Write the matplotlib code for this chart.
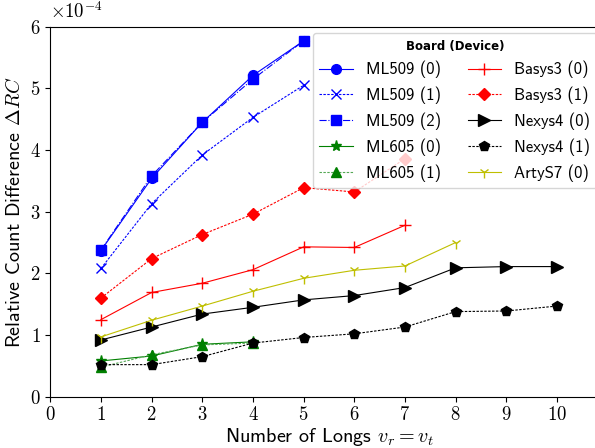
import matplotlib
matplotlib.use("Agg")
import matplotlib.pyplot as plt
from matplotlib.ticker import FuncFormatter, MultipleLocator

plt.rcParams["mathtext.fontset"] = "cm"
plt.rcParams["font.family"] = ["cmss10", "DejaVu Sans"]
plt.rcParams["axes.unicode_minus"] = False

# Relative count difference per board/device vs. number of longs
longs = [1, 2, 3, 4, 5, 6, 7, 8, 9, 10]

ml509_0 = [2.37e-4, 3.54e-4, 4.45e-4, 5.21e-4, 5.77e-4]
ml509_1 = [2.08e-4, 3.13e-4, 3.92e-4, 4.53e-4, 5.05e-4]
ml509_2 = [2.38e-4, 3.58e-4, 4.45e-4, 5.15e-4, 5.77e-4]
ml605_0 = [0.58e-4, 0.66e-4, 0.85e-4, 0.89e-4]
ml605_1 = [0.48e-4, 0.68e-4, 0.84e-4, 0.87e-4]
basys3_0 = [1.25e-4, 1.69e-4, 1.84e-4, 2.06e-4, 2.43e-4, 2.42e-4, 2.78e-4]
basys3_1 = [1.60e-4, 2.24e-4, 2.63e-4, 2.96e-4, 3.39e-4, 3.32e-4, 3.86e-4]
nexys4_0 = [0.92e-4, 1.13e-4, 1.34e-4, 1.45e-4, 1.57e-4, 1.64e-4, 1.77e-4,
            2.09e-4, 2.11e-4, 2.11e-4]
nexys4_1 = [0.52e-4, 0.52e-4, 0.65e-4, 0.87e-4, 0.96e-4, 1.02e-4, 1.13e-4,
            1.38e-4, 1.39e-4, 1.47e-4]
artys7_0 = [0.97e-4, 1.24e-4, 1.47e-4, 1.71e-4, 1.92e-4, 2.05e-4, 2.12e-4,
            2.50e-4]

FINE_DASH = (0, (2.2, 1.3))
series = [
    ("ML509 (0)", ml509_0, "b", "b", "-", "o", 7),
    ("ML509 (1)", ml509_1, "b", "b", FINE_DASH, "x", 7),
    ("ML509 (2)", ml509_2, "b", "b", "-.", "s", 7),
    ("ML605 (0)", ml605_0, "g", "g", "-", "*", 8),
    ("ML605 (1)", ml605_1, "#55a855", "g", FINE_DASH, "^", 7),
    ("Basys3 (0)", basys3_0, "r", "r", "-", "+", 8),
    ("Basys3 (1)", basys3_1, "r", "r", FINE_DASH, "D", 6.5),
    ("Nexys4 (0)", nexys4_0, "k", "k", "-", ">", 8),
    ("Nexys4 (1)", nexys4_1, "k", "k", FINE_DASH, "p", 7),
    ("ArtyS7 (0)", artys7_0, "y", "y", "-", "1", 8),
]

fig = plt.figure(figsize=(5.95, 4.48), dpi=100)
ax = fig.add_axes([50.3 / 595, 51.3 / 448, 11 * 50.67 / 595, 370 / 448])

for label, vals, lcolor, mcolor, ls, marker, ms in series:
    ax.plot(longs[:len(vals)], vals, color=lcolor, linestyle=ls,
            marker=marker, markersize=ms, markerfacecolor=mcolor,
            markeredgecolor=mcolor, linewidth=0.8, label=label)

ax.set_xlim(0, 11)
ax.set_ylim(0, 6e-4)
ax.xaxis.set_major_locator(MultipleLocator(1))
ax.yaxis.set_major_locator(MultipleLocator(1e-4))
ax.xaxis.set_major_formatter(FuncFormatter(
    lambda v, p: f"${int(round(v))}$" if v <= 10.01 else ""))
ax.yaxis.set_major_formatter(FuncFormatter(lambda v, p: f"${v * 1e4:.0f}$"))
ax.tick_params(direction="out", length=3.5, width=0.8, labelsize=13.5,
               top=False, right=False)
ax.text(0.0, 1.012, r"$\times10^{-4}$", transform=ax.transAxes,
        fontsize=13.5, ha="left", va="bottom")

ax.set_xlabel(r"Number of Longs $v_r = v_t$", fontsize=14.5, labelpad=1)
ax.set_ylabel(r"Relative Count Difference $\Delta RC$", fontsize=14.5,
              labelpad=4)

leg = ax.legend(ncol=2, loc="upper right", fontsize=12,
                title="Board (Device)", framealpha=0.8,
                columnspacing=1.6, borderaxespad=0,
                bbox_to_anchor=(0.981, 0.983))
leg.get_title().set_fontfamily("DejaVu Sans")
leg.get_title().set_fontweight("bold")
leg.get_title().set_fontsize(8.5)

fig.savefig("out.png", dpi=100)
